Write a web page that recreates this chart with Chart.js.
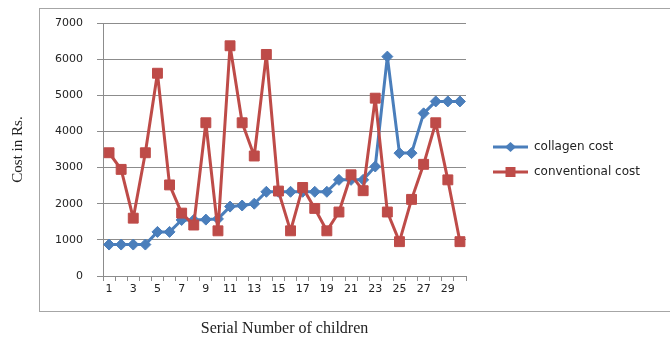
<!DOCTYPE html>
<html>
<head>
<meta charset="utf-8">
<script src="https://cdn.jsdelivr.net/npm/chart.js@4/dist/chart.umd.min.js"></script>
<style>
  html, body { margin: 0; padding: 0; background: #fff; }
  canvas { display: block; }
</style>
</head>
<body>
<canvas id="costChart" width="670" height="337"></canvas>
<script>
// --- data ---
const children = ['1','2','3','4','5','6','7','8','9','10','11','12','13','14','15',
                  '16','17','18','19','20','21','22','23','24','25','26','27','28','29','30'];
const collagenCost = [870, 870, 870, 870, 1220, 1220, 1550, 1550, 1560, 1580,
                      1920, 1950, 2000, 2330, 2330, 2330, 2330, 2330, 2330, 2660,
                      2660, 2660, 3030, 6070, 3400, 3400, 4500, 4830, 4830, 4830];
const conventionalCost = [3410, 2950, 1600, 3410, 5610, 2520, 1740, 1410, 4240, 1250,
                          6370, 4240, 3320, 6130, 2350, 1250, 2450, 1870, 1250, 1770,
                          2800, 2360, 4920, 1770, 950, 2120, 3090, 4240, 2660, 950];
const yMin = 0, yMax = 7000, yStep = 1000;

const blue = '#4a7ebb';
const red = '#be4b48';
const axisGrey = '#8c8c8c';

// legend icon: a short line with the marker in the middle (left part left blank as gap)
function legendIcon(color, style) {
    const c = document.createElement('canvas');
    c.width = 49; c.height = 14;
    const g = c.getContext('2d');
    g.strokeStyle = color;
    g.lineWidth = 3;
    g.beginPath(); g.moveTo(14, 7); g.lineTo(49, 7); g.stroke();
    g.fillStyle = color;
    g.beginPath();
    if (style === 'rectRot') {
        g.moveTo(31.5, 2); g.lineTo(37, 7); g.lineTo(31.5, 12); g.lineTo(26, 7);
    } else {
        g.rect(26.5, 2, 10, 10);
    }
    g.closePath(); g.fill();
    return c;
}

// frame round the whole chart, like the Excel chart border
const chartFrame = {
    id: 'chartFrame',
    beforeInit(chart) {
        const fit = chart.legend.fit;
        chart.legend.fit = function () {
            fit.call(this);
            this.width = 204;
        };
    },
    afterDraw(chart) {
        const ctx = chart.ctx;
        ctx.save();
        ctx.strokeStyle = '#a6a6a6';
        ctx.lineWidth = 1;
        ctx.strokeRect(39.5, 8.5, 640, 303);
        ctx.restore();
    }
};

const ctx = document.getElementById('costChart').getContext('2d');
new Chart(ctx, {
    type: 'line',
    data: {
        labels: children,
        datasets: [{
            label: 'collagen cost',
            data: collagenCost,
            borderColor: blue,
            backgroundColor: blue,
            borderWidth: 3,
            borderJoinStyle: 'round',
            pointStyle: 'rectRot',
            pointRadius: 5.5,
            pointBorderWidth: 1,
            tension: 0,
            order: 1
        }, {
            label: 'conventional cost',
            data: conventionalCost,
            borderColor: red,
            backgroundColor: red,
            borderWidth: 3,
            borderJoinStyle: 'round',
            pointStyle: 'rect',
            pointRadius: 7,
            pointBorderWidth: 1,
            tension: 0,
            order: 0
        }]
    },
    options: {
        responsive: false,
        animation: false,
        devicePixelRatio: 1,
        layout: { padding: { left: 0, top: 23, right: 0, bottom: 0 } },
        plugins: {
            tooltip: { enabled: false },
            legend: {
                position: 'right',
                align: 'center',
                fullSize: false,
                title: { display: true, text: ' ', padding: 0, font: { size: 10, lineHeight: 2 } },
                labels: {
                    usePointStyle: true,
                    pointStyleWidth: 49,
                    padding: 13,
                    color: '#222',
                    font: { family: 'DejaVu Sans', size: 12 },
                    sort: (a, b) => a.datasetIndex - b.datasetIndex,
                    generateLabels(chart) {
                        return chart.data.datasets.map((ds, i) => ({
                            text: ds.label,
                            datasetIndex: i,
                            fontColor: '#222',
                            pointStyle: legendIcon(ds.borderColor, ds.pointStyle),
                            lineWidth: 0,
                            hidden: false
                        }));
                    }
                }
            }
        },
        scales: {
            x: {
                offset: true,
                afterFit(s) { s.height = 61; },
                grid: {
                    offset: true,
                    drawOnChartArea: false,
                    drawTicks: true,
                    tickLength: 5,
                    color: axisGrey
                },
                border: { display: true, color: axisGrey },
                ticks: {
                    autoSkip: false,
                    maxRotation: 0,
                    padding: 2,
                    color: '#222',
                    font: { family: 'DejaVu Sans', size: 11 },
                    callback(v, i) { return i % 2 === 0 ? children[i] : ''; }
                },
                title: {
                    display: true,
                    text: 'Serial Number of children',
                    color: '#222',
                    padding: 0,
                    font: { family: 'Liberation Serif', size: 16, lineHeight: 1 }
                }
            },
            y: {
                min: yMin,
                max: yMax,
                afterFit(s) { s.width = 103; },
                grid: {
                    color: axisGrey,
                    tickLength: 6
                },
                border: { display: true, color: axisGrey },
                ticks: {
                    stepSize: yStep,
                    padding: 14,
                    color: '#222',
                    font: { family: 'DejaVu Sans', size: 11 },
                    callback(v) { return String(v); }
                },
                title: {
                    display: true,
                    text: 'Cost in Rs.',
                    color: '#222',
                    padding: { top: 9, bottom: 0 },
                    font: { family: 'Liberation Serif', size: 15 }
                }
            }
        }
    },
    plugins: [chartFrame]
});
</script>
</body>
</html>
